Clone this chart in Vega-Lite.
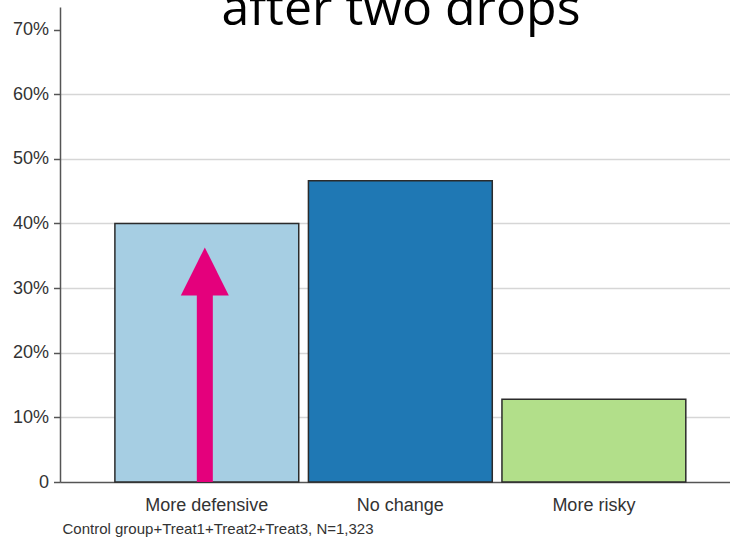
{
  "$schema": "https://vega.github.io/schema/vega-lite/v6.json",
  "width": 670,
  "height": 475,
  "autosize": {"type": "none"},
  "padding": {"left": 60, "top": 7, "right": 0, "bottom": 64},
  "background": "white",
  "title": {
    "text": "after two drops",
    "font": "Open Sans",
    "fontSize": 50,
    "fontWeight": "normal",
    "color": "#000000",
    "anchor": "middle",
    "baseline": "alphabetic",
    "offset": 0,
    "dy": 68,
    "dx": 6
  },
  "datasets": {
    "shares": [
      {"change": "More defensive", "share": 0.400},
      {"change": "No change", "share": 0.466},
      {"change": "More risky", "share": 0.128}
    ],
    "arrow": [
      {"change": "More defensive", "base": 0, "shaftTop": 0.29, "tip": 0.363}
    ]
  },
  "layer": [
    {
      "data": {"name": "shares"},
      "mark": {"type": "bar", "stroke": "#2b2b2b", "strokeWidth": 1.5},
      "encoding": {
        "x": {
          "field": "change",
          "type": "nominal",
          "sort": null,
          "scale": {
            "domain": ["More defensive", "No change", "More risky"],
            "paddingInner": 0.05,
            "paddingOuter": 0.256,
            "align": 0.554
          },
          "axis": {
            "title": "Control group+Treat1+Treat2+Treat3, N=1,323",
            "titleFont": "Liberation Sans",
            "titleFontSize": 15,
            "titleFontWeight": "normal",
            "titleColor": "#333333",
            "titleAnchor": "start",
            "titleAlign": "left",
            "titleBaseline": "alphabetic",
            "titleX": 2,
            "titleY": 51,
            "labelAngle": 0,
            "labelFont": "Liberation Sans",
            "labelFontSize": 18,
            "labelColor": "#333333",
            "labelPadding": 14,
            "ticks": false,
            "domainColor": "#555555",
            "domainWidth": 1.5,
            "grid": false
          }
        },
        "y": {
          "field": "share",
          "type": "quantitative",
          "scale": {"domain": [0, 0.735], "nice": false, "zero": true},
          "axis": {
            "title": null,
            "values": [0, 0.1, 0.2, 0.3, 0.4, 0.5, 0.6, 0.7],
            "labelExpr": "datum.value === 0 ? '0' : format(datum.value, '.0%')",
            "labelFont": "Liberation Sans",
            "labelFontSize": 18,
            "labelColor": "#333333",
            "labelPadding": 5,
            "tickColor": "#555555",
            "tickSize": 6.5,
            "tickWidth": 1.5,
            "domainColor": "#555555",
            "domainWidth": 1.5,
            "grid": true,
            "gridColor": {
              "condition": {"test": "datum.value === 0 || datum.value > 0.65", "value": "transparent"},
              "value": "#d6d6d6"
            },
            "gridWidth": 1.5
          }
        },
        "fill": {
          "field": "change",
          "type": "nominal",
          "scale": {
            "domain": ["More defensive", "No change", "More risky"],
            "range": ["#a6cee3", "#1f78b4", "#b2df8a"]
          },
          "legend": null
        }
      }
    },
    {
      "data": {"name": "arrow"},
      "mark": {"type": "rule", "color": "#e4007c", "strokeWidth": 16, "strokeCap": "butt", "xOffset": -2},
      "encoding": {
        "x": {"field": "change", "type": "nominal"},
        "y": {"field": "base", "type": "quantitative"},
        "y2": {"field": "shaftTop"}
      }
    },
    {
      "data": {"name": "arrow"},
      "mark": {
        "type": "point",
        "shape": "M0,0L1,2L-1,2Z",
        "size": 2304,
        "filled": true,
        "color": "#e4007c",
        "opacity": 1,
        "strokeWidth": 0,
        "xOffset": -2
      },
      "encoding": {
        "x": {"field": "change", "type": "nominal"},
        "y": {"field": "tip", "type": "quantitative"}
      }
    }
  ],
  "config": {
    "view": {"stroke": null}
  }
}
